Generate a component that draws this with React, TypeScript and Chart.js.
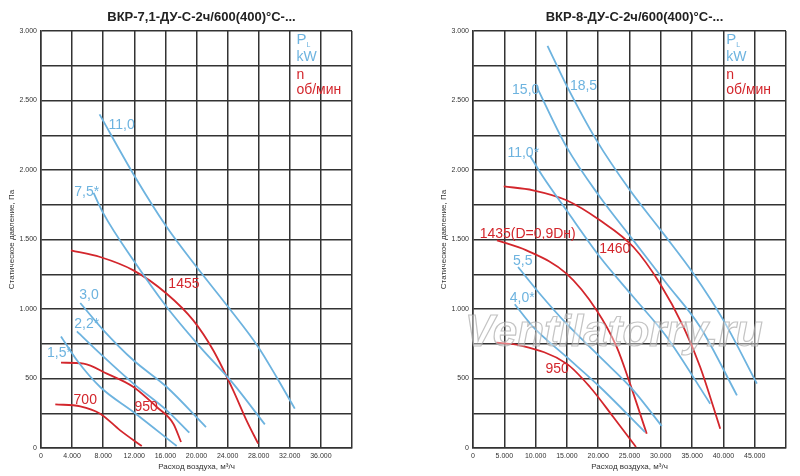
import React, { useEffect, useRef } from "react";
import { Chart, registerables } from "chart.js";
Chart.register(...registerables);

const BLUE = "#6db3df";
const RED = "#d3262c";
const FONT = "'Liberation Sans Narrow', 'Arial Narrow', 'Liberation Sans', sans-serif";

type P = { x: number; y: number };
const pts = (a: number[][]): P[] => a.map(([x, y]) => ({ x, y }));

// Left chart: ВКР-7,1
const L_title = "ВКР-7,1-ДУ-С-2ч/600(400)°С-...";
const L_kw110 = [[7530,2400],[12100,1950],[16170,1590],[20020,1302],[24080,1014],[27940,727],[30290,511],[32640,283]];
const L_kw75 = [[6760,1835],[8040,1686],[11890,1350],[16170,1014],[20450,727],[24720,463],[28790,170]];
const L_kw30 = [[5050,1043],[8040,847],[11890,631],[16170,439],[21220,151]];
const L_kw22 = [[4620,839],[7610,679],[11890,463],[16170,271],[19080,110]];
const L_kw15 = [[2570,803],[4620,631],[7610,439],[11890,259],[17450,14]];
const L_n1455 = [[3850,1422],[7610,1374],[11890,1278],[16170,1110],[19590,918],[22150,703],[24720,415],[26430,199],[27930,31]];
const L_n950 = [[2570,614],[5480,607],[8470,535],[11890,439],[14880,295],[17020,175],[18010,43]];
const L_n700 = [[1840,314],[5050,300],[7610,247],[10180,127],[12960,14]];
const L_labels: [string, number, number, string][] = [
  ["11,0", 8680, 2321, BLUE], ["7,5*", 4280, 1842, BLUE], ["3,0", 4920, 1098, BLUE],
  ["2,2*", 4280, 890, BLUE], ["1,5*", 770, 679, BLUE],
  ["1455", 16380, 1182, RED], ["950", 12020, 295, RED], ["700", 4190, 343, RED],
  ["kW", 32850, 2809, BLUE], ["n", 32850, 2681, RED], ["об/мин", 32850, 2573, RED],
];

// Right chart: ВКР-8
const R_title = "ВКР-8-ДУ-С-2ч/600(400)°С-...";
const R_kw185 = [[11900,2893],[14940,2609],[19740,2213],[25080,1854],[30420,1542],[35220,1254],[40020,918],[45350,463]];
const R_kw150 = [[10140,2602],[14940,2166],[20280,1806],[25620,1494],[30950,1182],[36290,871],[42160,379]];
const R_kw110 = [[9070,2105],[11210,1950],[14940,1710],[20280,1374],[25620,1086],[30950,799],[37890,319]];
const R_kw55 = [[7200,1302],[10670,1110],[14940,894],[20280,655],[25620,415],[30150,158]];
const R_kw40 = [[6670,1034],[9600,871],[14940,655],[20280,439],[27480,115]];
const R_n1460 = [[4910,1882],[9600,1854],[14940,1782],[20280,1638],[25620,1446],[29880,1182],[33620,871],[36290,583],[39490,139]];
const R_n1435 = [[3840,1494],[8540,1422],[14940,1254],[19740,991],[22950,727],[25080,463],[27750,103]];
const R_n950 = [[3740,758],[7470,739],[14940,607],[18680,439],[22410,223],[26040,7]];
const R_labels: [string, number, number, string][] = [
  ["18,5", 15480, 2602, BLUE], ["15,0", 6240, 2578, BLUE], ["11,0*", 5500, 2122, BLUE],
  ["5,5", 6400, 1345, BLUE], ["4,0*", 5870, 1081, BLUE],
  ["1460", 20170, 1434, RED], ["1435(D=0,9Dн)", 1070, 1542, RED], ["950", 11580, 564, RED],
  ["kW", 40450, 2809, BLUE], ["n", 40450, 2681, RED], ["об/мин", 40450, 2573, RED],
];

const fmt = (v: number) => {
  if (v < 1000) return String(v);
  const t = Math.floor(v / 1000);
  const r = String(v % 1000).padStart(3, "0");
  return `${t}.${r}`;
};

type Cfg = {
  title: string; blue: number[][][]; red: number[][][]; labels: [string, number, number, string][];
  xMax: number; xStep: number; xLastLabel: number; leftW: number; rightPad: number; watermark: boolean;
};

function Panel({ cfg, left }: { cfg: Cfg; left: number }) {
  const ref = useRef<HTMLCanvasElement>(null);
  useEffect(() => {
    const ds = [
      ...cfg.blue.map((d) => ({ data: pts(d), borderColor: BLUE })),
      ...cfg.red.map((d) => ({ data: pts(d), borderColor: RED })),
    ].map((d) => ({ ...d, borderWidth: 1.8, pointRadius: 0, fill: false, cubicInterpolationMode: "monotone" as const }));
    const plugin = {
      id: "deco",
      afterDatasetsDraw(chart: any) {
        const { ctx, chartArea: a, scales } = chart;
        const xs = scales.x, ys = scales.y;
        ctx.save();
        if (cfg.watermark) {
          ctx.font = `italic bold 44px 'Liberation Sans', sans-serif`;
          ctx.textAlign = "center"; ctx.textBaseline = "middle";
          ctx.strokeStyle = "rgba(170,170,170,0.7)"; ctx.lineWidth = 1.2;
          ctx.fillStyle = "rgba(255,255,255,0.4)";
          const cx = (xs.getPixelForValue(22500)), cy = ys.getPixelForValue(820);
          ctx.fillText("Ventilatorry.ru", cx, cy);
          ctx.strokeText("Ventilatorry.ru", cx, cy);
        }
        ctx.textAlign = "left"; ctx.textBaseline = "middle";
        for (const [t, x, y, c] of cfg.labels) {
          ctx.fillStyle = c;
          ctx.font = `14px ${FONT}`;
          ctx.fillText(t, xs.getPixelForValue(x), ys.getPixelForValue(y));
        }
        // P_L
        const px = xs.getPixelForValue(cfg.labels[8][1]), py = ys.getPixelForValue(2933);
        ctx.fillStyle = BLUE; ctx.font = `15px ${FONT}`;
        ctx.fillText("P", px, py);
        ctx.font = `7px ${FONT}`;
        ctx.fillText("L", px + 10, py + 5);
        // title
        ctx.fillStyle = "#222"; ctx.textAlign = "center"; ctx.textBaseline = "alphabetic";
        ctx.font = `bold 13px ${FONT}`;
        ctx.fillText(cfg.title, (a.left + a.right) / 2 + 5, 21);
        // axis titles
        ctx.font = `8px ${FONT}`; ctx.fillStyle = "#333";
        ctx.fillText("Расход воздуха, м³/ч", (a.left + a.right) / 2, a.bottom + 21);
        ctx.translate(a.left - 27, (a.top + a.bottom) / 2);
        ctx.rotate(-Math.PI / 2);
        ctx.fillText("Статическое давление, Па", 0, 0);
        ctx.restore();
      },
    };
    const chart = new Chart(ref.current!, {
      type: "line",
      data: { datasets: ds as any },
      plugins: [plugin],
      options: {
        animation: false, responsive: false, events: [],
        layout: { padding: { top: 31, right: cfg.rightPad, left: 0, bottom: 0 } },
        plugins: { legend: { display: false }, tooltip: { enabled: false } },
        scales: {
          x: {
            type: "linear", min: 0, max: cfg.xMax,
            afterFit: (s: any) => { s.height = 28; },
            ticks: { stepSize: cfg.xStep, font: { size: 7, family: FONT }, color: "#333", maxRotation: 0, padding: 4,
              callback: (v: any) => (v > cfg.xLastLabel ? "" : fmt(Number(v))) },
            grid: { color: "#333", lineWidth: 1.5, drawTicks: false },
            border: { color: "#333", width: 1.5 },
          },
          y: {
            type: "linear", min: 0, max: 3000,
            afterFit: (s: any) => { s.width = cfg.leftW; },
            ticks: { stepSize: 250, font: { size: 7, family: FONT }, color: "#333", padding: 4,
              callback: (v: any) => (Number(v) % 500 === 0 ? fmt(Number(v)) : "") },
            grid: { color: "#333", lineWidth: 1.5, drawTicks: false },
            border: { color: "#333", width: 1.5 },
          },
        },
      },
    });
    return () => chart.destroy();
  }, []);
  return <canvas ref={ref} width={400} height={476} style={{ position: "absolute", left, top: 0, width: 400, height: 476 }} />;
}

const leftCfg: Cfg = {
  title: L_title, blue: [L_kw110, L_kw75, L_kw30, L_kw22, L_kw15], red: [L_n1455, L_n950, L_n700],
  labels: L_labels, xMax: 40000, xStep: 4000, xLastLabel: 36000, leftW: 41, rightPad: 48, watermark: false,
};
const rightCfg: Cfg = {
  title: R_title, blue: [R_kw185, R_kw150, R_kw110, R_kw55, R_kw40], red: [R_n1460, R_n1435, R_n950],
  labels: R_labels, xMax: 50000, xStep: 5000, xLastLabel: 45000, leftW: 73, rightPad: 14, watermark: true,
};

export default function App() {
  return (
    <div style={{ position: "fixed", left: 0, top: 0, width: 800, height: 476, background: "#fff" }}>
      <Panel cfg={leftCfg} left={0} />
      <Panel cfg={rightCfg} left={400} />
    </div>
  );
}
